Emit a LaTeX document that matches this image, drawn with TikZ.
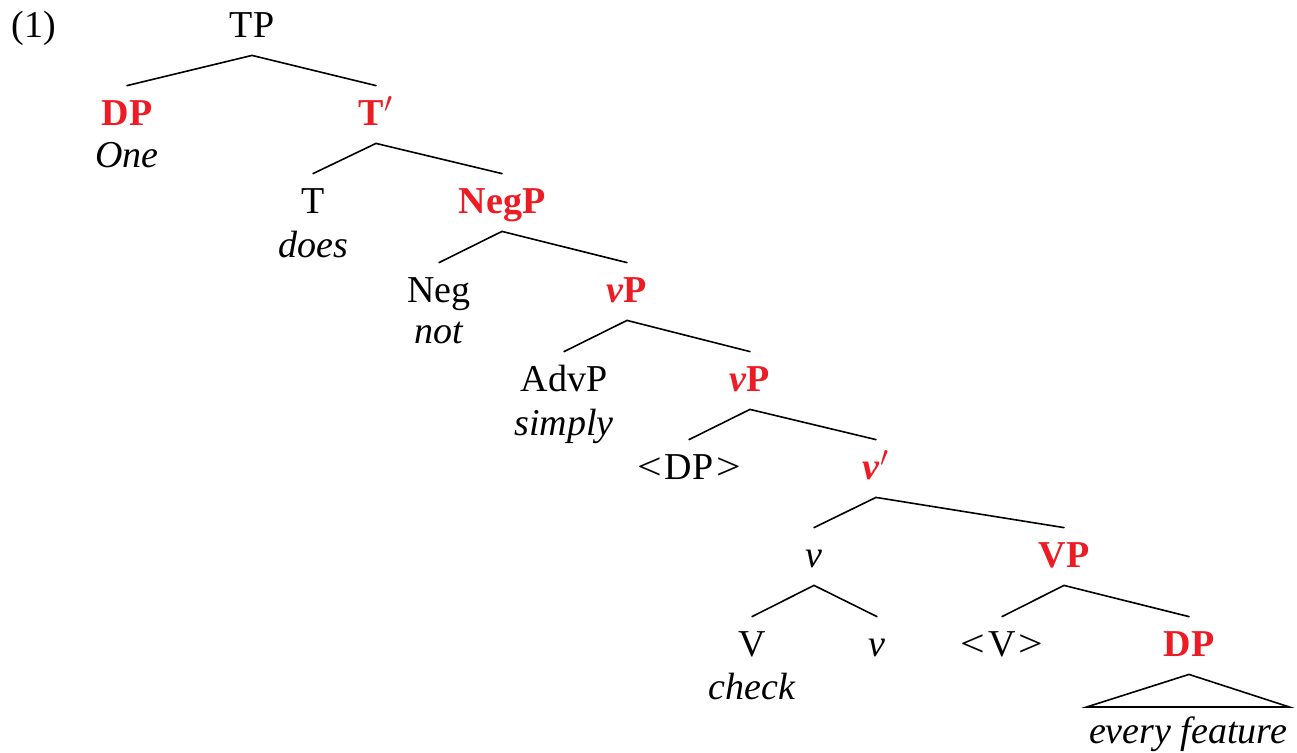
\documentclass[tikz,border=0pt]{standalone}
\usepackage{fontspec}
\setmainfont{Liberation Serif}
\definecolor{synred}{RGB}{237,28,36}
\newcommand{\trc}[1]{\scalebox{1.15}[1]{<}\kern1.5pt#1\kern1.5pt\scalebox{1.15}[1]{>}}
\begin{document}
\begin{tikzpicture}[x=0.5pt,y=-0.5pt,
  font=\fontsize{19}{23}\selectfont,
  lab/.style={anchor=base,inner xsep=0pt,inner ysep=6.5pt,text height=13pt,text depth=2.5pt},
  hl/.style={lab,text=synred,font=\fontsize{19}{23}\selectfont\bfseries},
  word/.style={anchor=base,inner sep=0pt,font=\fontsize{19}{23}\selectfont\itshape},
  edge/.style={draw,line width=0.8pt,line cap=round}]
\useasboundingbox (0,0) rectangle (1297,752);
\node[anchor=base,inner sep=0pt] (ex) at (34,37) {(1)};
\node[lab] (tp) at (252,37) {TP};
\node[hl] (dp1) at (127,125) {DP};
\node[word] (one) at (127,167) {One};
\node[hl] (tbar) at (376,125) {T$'$};
\node[lab] (t) at (313,213) {T};
\node[word] (does) at (313,257) {does};
\node[hl] (negp) at (502,213) {NegP};
\node[lab] (neg) at (439,302) {Neg};
\node[word] (not) at (439,343) {not};
\node[hl] (vp1) at (627,302) {\textit{v}P};
\node[lab] (advp) at (564,391) {AdvP};
\node[word] (simply) at (564,435) {simply};
\node[hl] (vp2) at (750,391) {\textit{v}P};
\node[lab] (dptr) at (689,479) {\trc{DP}};
\node[hl] (vbar) at (876,479) {\textit{v}$'$};
\node[lab] (vsmall) at (814,567) {\textit{v}};
\node[hl] (vp) at (1064,567) {VP};
\node[lab] (V) at (752,656) {V};
\node[lab] (v2) at (877,656) {\textit{v}};
\node[lab] (vtr) at (1002,656) {\trc{V}};
\node[hl] (dp2) at (1189,656) {DP};
\node[word] (check) at (752,699) {check};
\node[word,inner ysep=0pt] (every) at (1188,743) {every feature};
\coordinate (tri) at ([yshift=18pt]every.base);
\coordinate (trl) at ([xshift=-1pt]tri -| every.west);
\coordinate (trr) at ([xshift=1pt]tri -| every.east);
\foreach \a/\b in {tp/dp1,tp/tbar,tbar/t,tbar/negp,negp/neg,negp/vp1,vp1/advp,vp1/vp2,
  vp2/dptr,vp2/vbar,vbar/vsmall,vbar/vp,vsmall/V,vsmall/v2,vp/vtr,vp/dp2}
  \draw[edge] (\a.south) -- (\b.north);
\draw[edge,line join=miter] (dp2.south) -- (trr) -- (trl) -- cycle;
\end{tikzpicture}
\end{document}
